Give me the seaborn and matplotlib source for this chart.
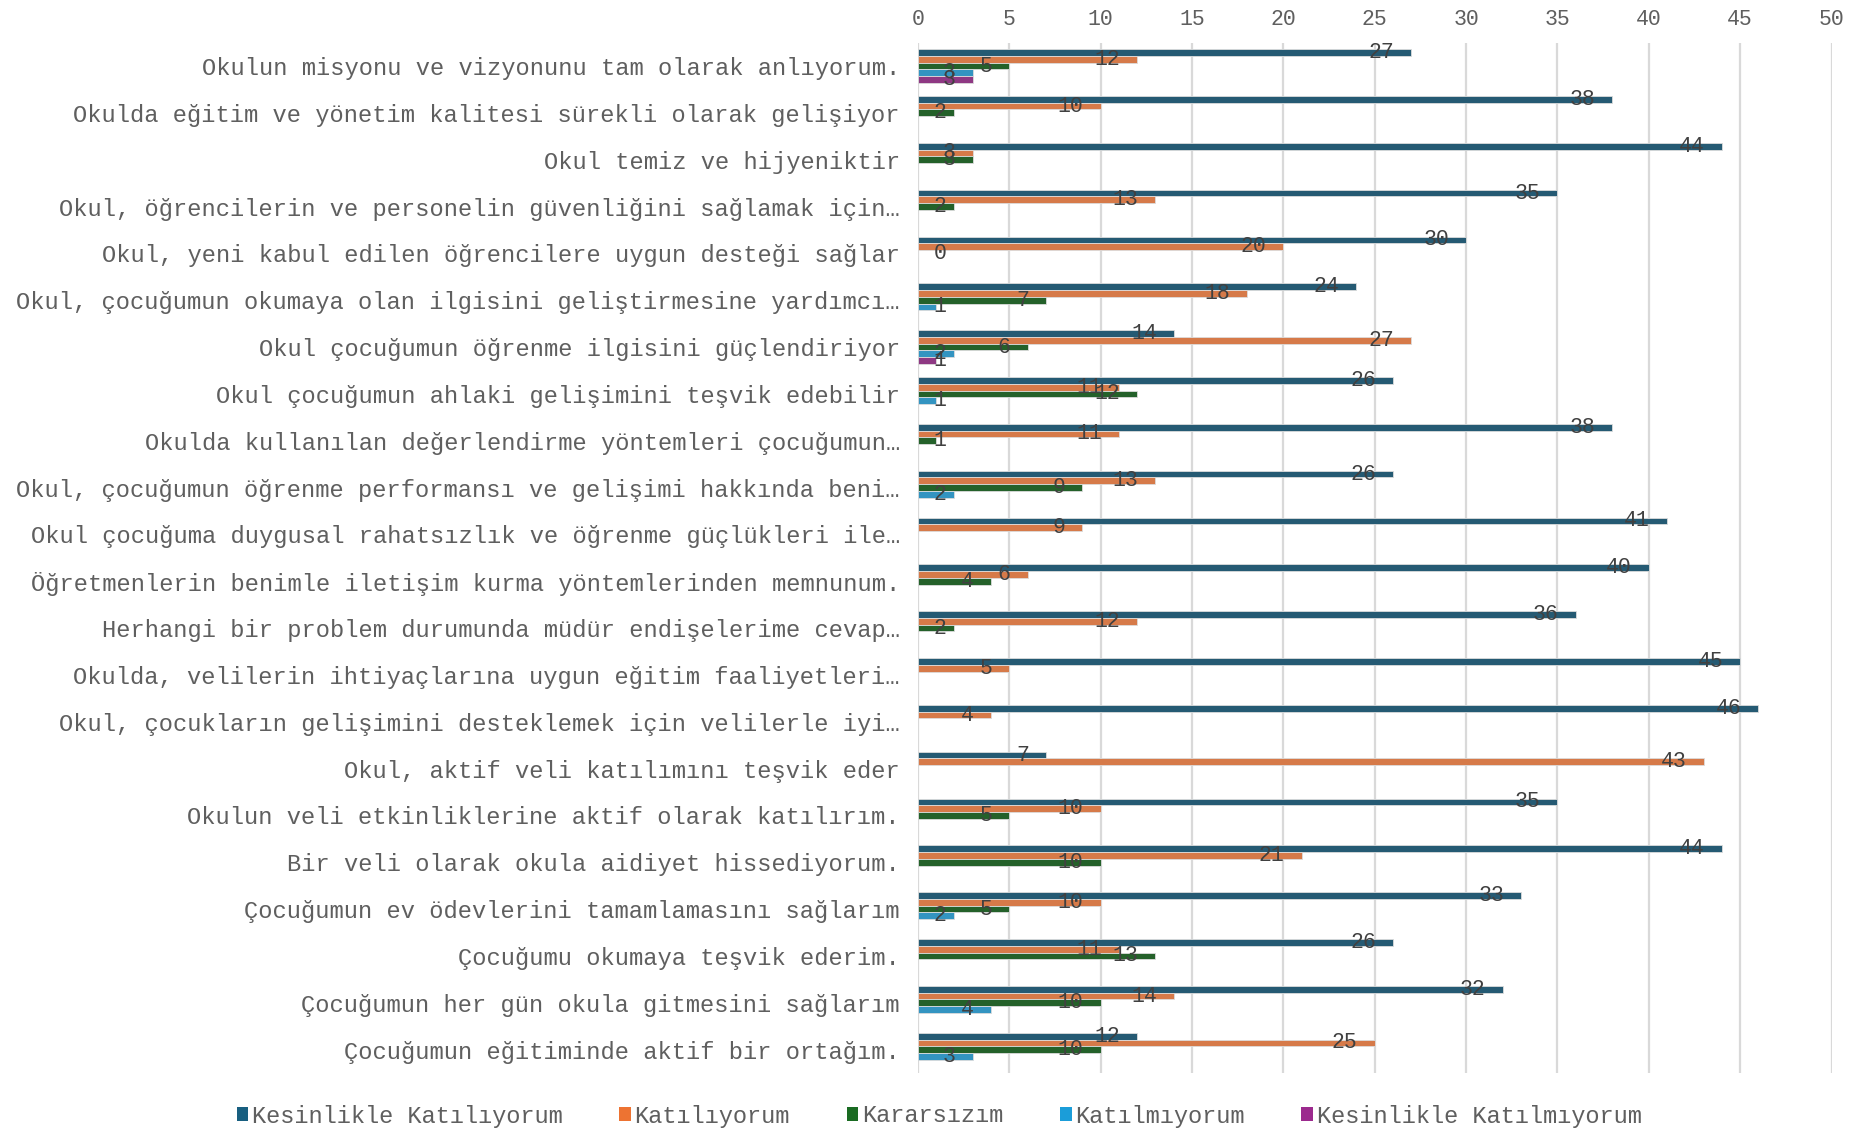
import numpy as np
import pandas as pd
import matplotlib
matplotlib.use("Agg")
import matplotlib.pyplot as plt
from matplotlib.patches import Patch
import seaborn as sns

# sorular (kategori etiketleri)
sorular = [
    "Okulun misyonu ve vizyonunu tam olarak anlıyorum.",
    "Okulda eğitim ve yönetim kalitesi sürekli olarak gelişiyor",
    "Okul temiz ve hijyeniktir",
    "Okul, öğrencilerin ve personelin güvenliğini sağlamak için…",
    "Okul, yeni kabul edilen öğrencilere uygun desteği sağlar",
    "Okul, çocuğumun okumaya olan ilgisini geliştirmesine yardımcı…",
    "Okul çocuğumun öğrenme ilgisini güçlendiriyor",
    "Okul çocuğumun ahlaki gelişimini teşvik edebilir",
    "Okulda kullanılan değerlendirme yöntemleri çocuğumun…",
    "Okul, çocuğumun öğrenme performansı ve gelişimi hakkında beni…",
    "Okul çocuğuma duygusal rahatsızlık ve öğrenme güçlükleri ile…",
    "Öğretmenlerin benimle iletişim kurma yöntemlerinden memnunum.",
    "Herhangi bir problem durumunda müdür endişelerime cevap…",
    "Okulda, velilerin ihtiyaçlarına uygun eğitim faaliyetleri…",
    "Okul, çocukların gelişimini desteklemek için velilerle iyi…",
    "Okul, aktif veli katılımını teşvik eder",
    "Okulun veli etkinliklerine aktif olarak katılırım.",
    "Bir veli olarak okula aidiyet hissediyorum.",
    "Çocuğumun ev ödevlerini tamamlamasını sağlarım",
    "Çocuğumu okumaya teşvik ederim.",
    "Çocuğumun her gün okula gitmesini sağlarım",
    "Çocuğumun eğitiminde aktif bir ortağım.",
]

yanitlar = ["Kesinlikle Katılıyorum", "Katılıyorum", "Kararsızım",
            "Katılmıyorum", "Kesinlikle Katılmıyorum"]
renkler = ["#185F80", "#ED7332", "#1A6B22", "#1B9DD9", "#9C2A8E"]

nan = np.nan
kesinlikle_katiliyorum = [27, 38, 44, 35, 30, 24, 14, 26, 38, 26, 41, 40, 36, 45, 46, 7, 35, 44, 33, 26, 32, 12]
katiliyorum = [12, 10, 3, 13, 20, 18, 27, 11, 11, 13, 9, 6, 12, 5, 4, 43, 10, 21, 10, 11, 14, 25]
kararsizim = [5, 2, 3, 2, 0, 7, 6, 12, 1, 9, nan, 4, 2, nan, nan, nan, 5, 10, 5, 13, 10, 10]
katilmiyorum = [3, nan, nan, nan, nan, 1, 2, 1, nan, 2, nan, nan, nan, nan, nan, nan, nan, nan, 2, nan, 4, 3]
kesinlikle_katilmiyorum = [3, nan, nan, nan, nan, nan, 1, nan, nan, nan, nan, nan, nan, nan, nan, nan, nan, nan, nan, nan, nan, nan]

seriler = [kesinlikle_katiliyorum, katiliyorum, kararsizim, katilmiyorum, kesinlikle_katilmiyorum]
satirlar = []
for yanit, seri in zip(yanitlar, seriler):
    for soru, deger in zip(sorular, seri):
        satirlar.append({"soru": soru, "yanit": yanit, "deger": deger})
df = pd.DataFrame(satirlar).dropna()

sns.set_theme(style="white")
plt.rcParams["font.family"] = ["Liberation Mono", "DejaVu Sans Mono"]
gri = "#5f5f5f"

fig = plt.figure(figsize=(18.57, 11.30), dpi=100)
ax = fig.add_axes([0.4943, 0.0504, 0.4920, 0.9119])

sns.barplot(data=df, y="soru", x="deger", hue="yanit", order=sorular,
            hue_order=yanitlar, palette=renkler, width=0.72, orient="h",
            edgecolor="#dcdcdc", linewidth=0.6, legend=False, ax=ax)

ax.set_xlim(0, 50)
ax.set_ylim(len(sorular) - 0.5, -0.5)
ax.set_xticks(range(0, 51, 5))
ax.xaxis.tick_top()
ax.tick_params(axis="x", length=0, pad=9, labelsize=15.5, labelcolor=gri)
ax.tick_params(axis="y", length=0, pad=13, labelsize=17.1, labelcolor=gri)
ax.grid(axis="x", color="#d9d9d9", linewidth=1.6)
ax.set_axisbelow(True)
for s in ax.spines.values():
    s.set_visible(False)
ax.set_xlabel("")
ax.set_ylabel("")

# veri etiketleri (bar sonunun biraz içinde)
for p in ax.patches:
    w = p.get_width()
    if np.isnan(w):
        continue
    yazi = str(int(round(w)))
    x_sag = max(w - 0.93, 0.85 + 0.71 * len(yazi))
    ax.text(x_sag, p.get_y() + p.get_height() / 2, yazi, ha="right",
            va="center", fontsize=15.5, color="#404040")

handles = [Patch(facecolor=c, edgecolor="none") for c in renkler]
fig.legend(handles, yanitlar, loc="center", bbox_to_anchor=(0.5057, 1 - 1116 / 1130),
           ncol=5, frameon=False, fontsize=17, labelcolor=gri,
           handlelength=0.5, handleheight=0.5, handletextpad=0.15,
           columnspacing=2.4)

plt.savefig("out.png", dpi=100)
